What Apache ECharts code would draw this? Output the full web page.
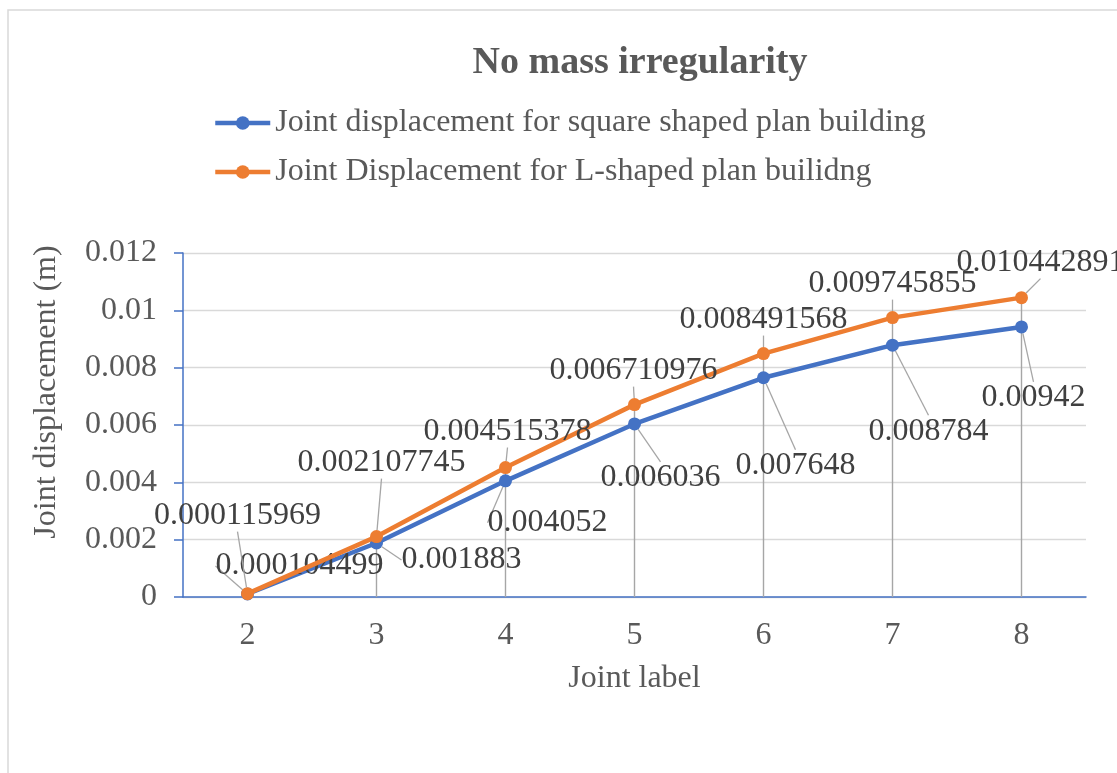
<!DOCTYPE html>
<html>
<head>
<meta charset="utf-8">
<title>No mass irregularity</title>
<script src="https://cdn.jsdelivr.net/npm/echarts@6/dist/echarts.min.js"></script>
<style>
  html, body { margin: 0; padding: 0; background: #ffffff; }
  #chart { width: 1117px; height: 773px; }
</style>
</head>
<body>
<div id="chart"></div>
<script>
// Joint labels along the x axis
const jointLabels = ['2', '3', '4', '5', '6', '7', '8'];

// Joint displacement (m), square shaped plan building
const squareDisp = [0.000104499, 0.001883, 0.004052, 0.006036, 0.007648, 0.008784, 0.00942];

// Joint displacement (m), L-shaped plan building
const lShapedDisp = [0.000115969, 0.002107745, 0.004515378, 0.006710976, 0.008491568, 0.009745855, 0.010442891];

// Value axis tick labels
const yTickLabels = ['0', '0.002', '0.004', '0.006', '0.008', '0.01', '0.012'];

const seriesNames = [
  'Joint displacement for square shaped plan building',
  'Joint Displacement for L-shaped plan builidng'
];

const SERIF = '"Liberation Serif", "Times New Roman", "DejaVu Serif", serif';
const TEXT_GREY = '#595959';
const AXIS_BLUE = '#4472C4';
const FONT = 32;

// Label offsets (px) from each point's centre to its label's centre
const squareLabelShift = [[52, -28], [85, 17], [42, 42], [26, 54], [32, 88], [36, 86], [12, 71]];
const lShapedLabelShift = [[-10, -78], [5, -74], [2, -36], [-1, -34], [0, -34], [0, -34], [19, -35]];

function placeLabel(shifts) {
  return function (params) {
    const r = params.rect;
    const s = shifts[params.dataIndex];
    return {
      x: r.x + r.width / 2 + s[0],
      y: r.y + r.height / 2 + s[1],
      align: 'center',
      verticalAlign: 'middle'
    };
  };
}

const chart = echarts.init(document.getElementById('chart'), null, { renderer: 'canvas' });

chart.setOption({
  backgroundColor: '#ffffff',
  animation: false,
  graphic: [{
    type: 'rect',
    silent: true,
    shape: { x: 8, y: 10, width: 1200, height: 900 },
    style: { fill: 'none', stroke: '#d9d9d9', lineWidth: 1.5 }
  }],
  title: {
    text: 'No mass irregularity',
    left: 635,
    top: 39,
    textAlign: 'center',
    textStyle: { fontFamily: SERIF, fontSize: 38, fontWeight: 'bold', color: TEXT_GREY }
  },
  legend: {
    data: seriesNames,
    orient: 'vertical',
    left: 208,
    top: 102,
    itemWidth: 55,
    itemHeight: 17,
    itemGap: 17,
    lineStyle: { width: 4.5 },
    textStyle: { fontFamily: SERIF, fontSize: FONT, color: TEXT_GREY, lineHeight: 32 }
  },
  grid: { left: 183, right: 31, top: 253, bottom: 176 },
  xAxis: {
    type: 'category',
    data: jointLabels,
    boundaryGap: true,
    name: 'Joint label',
    nameLocation: 'middle',
    nameGap: 66,
    nameTextStyle: { fontFamily: SERIF, fontSize: FONT, color: TEXT_GREY },
    axisLine: { lineStyle: { color: AXIS_BLUE, width: 1.5 } },
    axisTick: { show: false },
    axisLabel: { fontFamily: SERIF, fontSize: FONT, color: TEXT_GREY, margin: 23 },
    splitLine: { show: false }
  },
  yAxis: {
    type: 'value',
    min: 0,
    max: 0.012,
    interval: 0.002,
    name: 'Joint displacement (m)',
    nameLocation: 'middle',
    nameGap: 120,
    nameTextStyle: { fontFamily: SERIF, fontSize: FONT, color: TEXT_GREY, padding: [0, 0, 0, 66] },
    axisLine: { show: true, lineStyle: { color: AXIS_BLUE, width: 1.5 } },
    axisTick: { show: true, length: 9, lineStyle: { color: AXIS_BLUE, width: 1.5 } },
    axisLabel: {
      fontFamily: SERIF, fontSize: FONT, color: TEXT_GREY, margin: 26,
      formatter: function (v, i) { return yTickLabels[i]; }
    },
    splitLine: { show: true, lineStyle: { color: '#d9d9d9', width: 1.3 } }
  },
  series: [
    {
      // drop lines from the upper curve down to the axis
      name: 'drop',
      type: 'bar',
      data: lShapedDisp,
      barWidth: 1.4,
      itemStyle: { color: '#a6a6a6' },
      silent: true,
      z: 1
    },
    {
      name: seriesNames[0],
      type: 'line',
      data: squareDisp,
      color: AXIS_BLUE,
      symbol: 'circle',
      symbolSize: 13,
      lineStyle: { width: 4.5, color: AXIS_BLUE },
      itemStyle: { color: AXIS_BLUE },
      z: 3,
      label: {
        show: true,
        fontFamily: SERIF, fontSize: FONT, color: '#404040',
        formatter: function (p) { return String(p.value); }
      },
      labelLine: { show: true, lineStyle: { color: '#a6a6a6', width: 1.3 } },
      labelLayout: placeLabel(squareLabelShift)
    },
    {
      name: seriesNames[1],
      type: 'line',
      data: lShapedDisp,
      color: '#ED7D31',
      symbol: 'circle',
      symbolSize: 13,
      lineStyle: { width: 4.5, color: '#ED7D31' },
      itemStyle: { color: '#ED7D31' },
      z: 4,
      label: {
        show: true,
        fontFamily: SERIF, fontSize: FONT, color: '#404040',
        formatter: function (p) { return String(p.value); }
      },
      labelLine: { show: true, lineStyle: { color: '#a6a6a6', width: 1.3 } },
      labelLayout: placeLabel(lShapedLabelShift)
    }
  ]
});
</script>
</body>
</html>
